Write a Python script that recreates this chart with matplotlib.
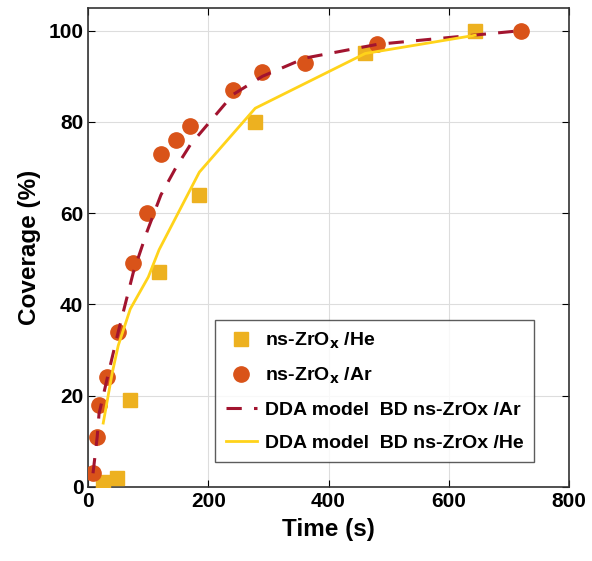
import matplotlib.pyplot as plt

# ns-ZrOx / He (squares)
t_he = [25, 48, 70, 118, 185, 278, 461, 644]
cov_he = [1, 2, 19, 47, 64, 80, 95, 100]

# ns-ZrOx / Ar (circles)
t_ar = [8, 15, 18, 32, 50, 75, 98, 121, 146, 170, 241, 290, 361, 481, 720]
cov_ar = [3, 11, 18, 24, 34, 49, 60, 73, 76, 79, 87, 91, 93, 97, 100]

# DDA model Ar (dashed)
t_mod_ar = [8, 15, 18, 32, 50, 75, 98, 121, 146, 170, 241, 290, 361, 481, 720]
cov_mod_ar = [3, 11, 16, 24, 34, 47, 56, 64, 70, 75, 86, 90, 94, 97, 100]

# DDA model He (solid)
t_mod_he = [25, 40, 50, 70, 100, 118, 185, 278, 461, 644]
cov_mod_he = [14, 25, 31, 39, 46, 52, 69, 83, 95, 99]

plt.rcParams['font.family'] = ['Liberation Sans', 'DejaVu Sans']
plt.rcParams['font.weight'] = 'bold'
plt.rcParams['mathtext.default'] = 'bf'

fig = plt.figure(figsize=(5.92, 5.61), dpi=100)
ax = fig.add_axes([0.149, 0.132, 0.812, 0.854])

ax.plot(t_he, cov_he, 's', color='#EDB120', markersize=10, label=r'ns-ZrO$_{x}$ /He', zorder=3)
ax.plot(t_ar, cov_ar, 'o', color='#D95319', markersize=11, label=r'ns-ZrO$_{x}$ /Ar', zorder=3)
ax.plot(t_mod_ar, cov_mod_ar, '--', color='#A2142F', linewidth=2.2, dashes=(5, 4),
        label='DDA model  BD ns-ZrOx /Ar', zorder=4)
ax.plot(t_mod_he, cov_mod_he, '-', color='#FFD31A', linewidth=2,
        label='DDA model  BD ns-ZrOx /He', zorder=4)

ax.set_xlim(0, 800)
ax.set_ylim(0, 105)
ax.set_xticks([0, 200, 400, 600, 800])
ax.set_yticks([0, 20, 40, 60, 80, 100])
ax.grid(True, color='#dddddd', linewidth=0.8)
ax.set_axisbelow(True)
ax.tick_params(direction='in', top=True, right=True, labelsize=15, length=5)
for lab in ax.get_xticklabels() + ax.get_yticklabels():
    lab.set_fontweight('bold')
for s in ax.spines.values():
    s.set_linewidth(1.2)
    s.set_color('#333333')

ax.set_xlabel('Time (s)', fontsize=17.5, fontweight='bold', labelpad=5)
ax.set_ylabel('Coverage (%)', fontsize=17.5, fontweight='bold', labelpad=5)

leg = ax.legend(loc='upper left', bbox_to_anchor=(0.264, 0.349),
                fontsize=14, frameon=True, fancybox=False,
                edgecolor='#333333', handlelength=1.6, handletextpad=0.4,
                labelspacing=0.78, borderaxespad=0, borderpad=0.55)
leg.get_frame().set_linewidth(1.0)

fig.savefig('out.png', dpi=100)
